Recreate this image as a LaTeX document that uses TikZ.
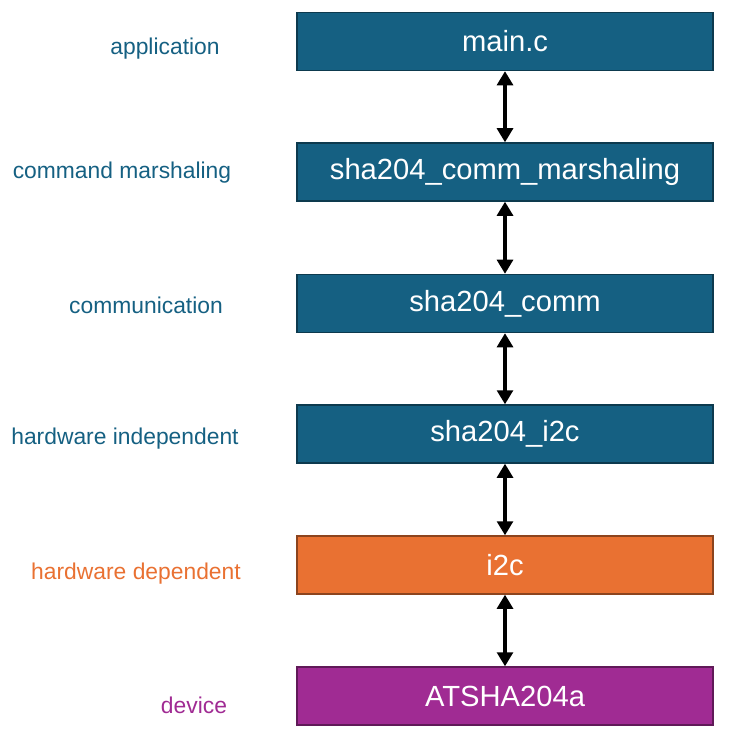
\documentclass[tikz,border=0pt]{standalone}
\usepackage{fontspec}
\setmainfont{Liberation Sans}
\usetikzlibrary{arrows.meta}
\definecolor{layerblue}{HTML}{156082}
\definecolor{layerorange}{HTML}{E97132}
\definecolor{layerpurple}{HTML}{A02B93}
\tikzset{
	layer/.style={draw=#1!60!black,fill=#1,line width=0.8pt,minimum width=8.32cm,minimum height=1.16cm,text=white,font=\fontsize{16.6}{19}\selectfont,inner sep=0pt},
	tag/.style={text=#1,font=\fontsize{13}{15}\selectfont,inner sep=0pt},
	link/.style={<->,line width=1.9pt,>={Triangle[length=8pt,width=9pt]}}
}
\begin{document}
\begin{tikzpicture}[x=0.02cm,y=-0.02cm]
	\useasboundingbox (0,0) rectangle (732,740);
	\node [layer=layerblue] (main) at (505,41.5) {main.c};
	\node [layer=layerblue] (marsh) at (505,172) {sha204\_comm\_marshaling};
	\node [layer=layerblue] (comm) at (505,303.5) {sha204\_comm};
	\node [layer=layerblue] (shai2c) at (505,434) {sha204\_i2c};
	\node [layer=layerorange] (i2c) at (505,565) {i2c};
	\node [layer=layerpurple] (dev) at (505,696) {ATSHA204a};
	\node [tag=layerblue] (lapp) at (165,49) {application};
	\node [tag=layerblue] (lmarsh) at (122,173) {command marshaling};
	\node [tag=layerblue] (lcomm) at (146,305) {communication};
	\node [tag=layerblue] (lindep) at (125,439) {hardware independent};
	\node [tag=layerorange] (ldep) at (136,574) {hardware dependent};
	\node [tag=layerpurple] (ldev) at (194,705) {device};
	\draw [link] (main) -- (marsh);
	\draw [link] (marsh) -- (comm);
	\draw [link] (comm) -- (shai2c);
	\draw [link] (shai2c) -- (i2c);
	\draw [link] (i2c) -- (dev);
\end{tikzpicture}
\end{document}
